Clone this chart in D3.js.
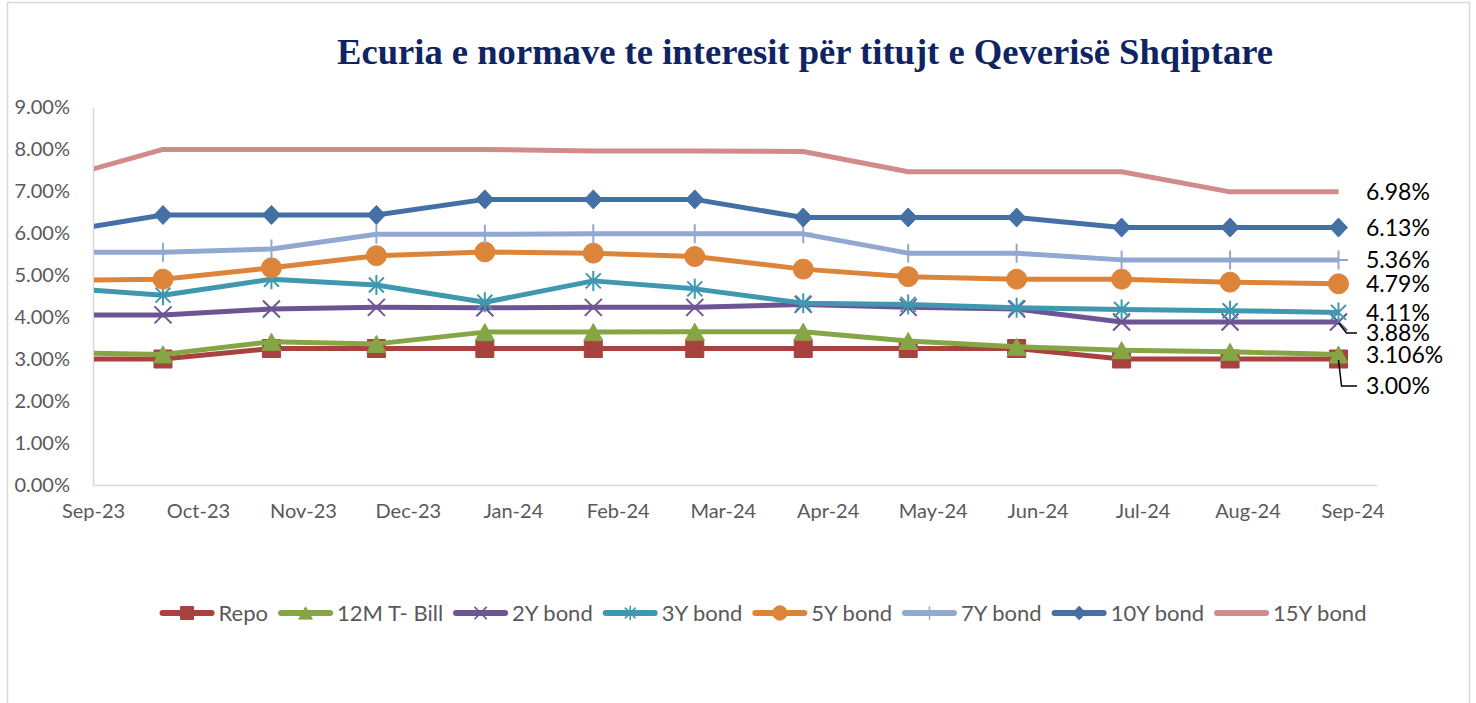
<!DOCTYPE html>
<html>
<head>
<meta charset="utf-8">
<script src="https://cdn.jsdelivr.net/npm/d3@7"></script>
<style>
  body { margin: 0; background: #fff; }
  svg { display: block; font-family: Lato, "Open Sans", sans-serif; }
</style>
</head>
<body>
<div id="chart"></div>
<script>
// monthly observations (first one falls before the axis start and is clipped)
const dates = ["2023-09-01", "2023-10-01", "2023-11-01", "2023-12-01", "2024-01-01", "2024-02-01",
  "2024-03-01", "2024-04-01", "2024-05-01", "2024-06-01", "2024-07-01", "2024-08-01", "2024-09-01"]
const tickLabels = ["Sep-23", "Oct-23", "Nov-23", "Dec-23", "Jan-24", "Feb-24", "Mar-24",
  "Apr-24", "May-24", "Jun-24", "Jul-24", "Aug-24", "Sep-24"]
const yTicks = [0, 1, 2, 3, 4, 5, 6, 7, 8, 9]

const repo     = [3.00, 3.00, 3.25, 3.25, 3.25, 3.25, 3.25, 3.25, 3.25, 3.25, 3.00, 3.00, 3.00]
const tbill12m = [3.15, 3.11, 3.41, 3.36, 3.64, 3.64, 3.65, 3.65, 3.43, 3.29, 3.21, 3.17, 3.106]
const bond2y   = [4.05, 4.05, 4.19, 4.23, 4.22, 4.23, 4.23, 4.30, 4.23, 4.19, 3.88, 3.88, 3.88]
const bond3y   = [4.70, 4.52, 4.90, 4.76, 4.35, 4.86, 4.67, 4.33, 4.30, 4.22, 4.18, 4.15, 4.11]
const bond5y   = [4.87, 4.90, 5.17, 5.46, 5.55, 5.52, 5.44, 5.14, 4.96, 4.90, 4.90, 4.83, 4.79]
const bond7y   = [5.54, 5.54, 5.62, 5.97, 5.97, 5.98, 5.98, 5.98, 5.52, 5.52, 5.36, 5.36, 5.36]
const bond10y  = [6.02, 6.43, 6.43, 6.43, 6.80, 6.80, 6.80, 6.37, 6.37, 6.37, 6.13, 6.13, 6.13]
const bond15y  = [7.29, 7.99, 7.99, 7.99, 7.99, 7.95, 7.95, 7.94, 7.46, 7.46, 7.46, 6.98, 6.98]

const seriesNames = ["Repo", "12M T- Bill", "2Y bond", "3Y bond", "5Y bond", "7Y bond", "10Y bond", "15Y bond"]
const seriesValues = [repo, tbill12m, bond2y, bond3y, bond5y, bond7y, bond10y, bond15y]
const endLabels = ["3.00%", "3.106%", "3.88%", "4.11%", "4.79%", "5.36%", "6.13%", "6.98%"]

const colors = ["#a8423f", "#86a544", "#6e5494", "#3f98b0", "#dd843b", "#91a8d0", "#4470a6", "#d18b8b"]
const markerTypes = ["square", "triangle", "x", "star", "circle", "plus", "diamond", null]

const width = 1476, height = 703
const parse = d3.timeParse("%Y-%m-%d")

const svg = d3.select("#chart").append("svg")
    .attr("width", width)
    .attr("height", height)

svg.append("rect")
    .attr("x", 7.5).attr("y", 2.5)
    .attr("width", 1462).attr("height", 740)
    .attr("fill", "none").attr("stroke", "#d9d9d9").attr("stroke-width", 1.5)

// title
const title = svg.append("text")
    .attr("x", 805).attr("y", 64)
    .attr("text-anchor", "middle")
    .attr("font-family", "'Liberation Serif', 'DejaVu Serif', serif")
    .attr("font-weight", "bold")
    .attr("font-size", 35)
    .attr("fill", "#0f2462")
    .text("Ecuria e normave te interesit për titujt e Qeverisë Shqiptare")
title.attr("textLength", 936).attr("lengthAdjust", "spacingAndGlyphs")

// scales - axis runs on a day basis, labels every 30 days from its start
const axisStart = new Date(2023, 8, 11)
const x = d3.scaleTime()
    .domain([axisStart, new Date(2024, 8, 12)])
    .range([93, 1377])
const y = d3.scaleLinear()
    .domain([0, 9])
    .range([485, 107])

const tickDates = tickLabels.map((d, i) => d3.timeDay.offset(axisStart, 30 * i))

const xAxis = svg.append("g")
    .attr("transform", "translate(0,485)")
    .call(d3.axisBottom(x).tickValues(tickDates).tickFormat((d, i) => tickLabels[i])
        .tickSize(0).tickPadding(19))
xAxis.select(".domain").attr("stroke", "#d9d9d9").attr("stroke-width", 1.5)
xAxis.selectAll("text").attr("font-size", 20).attr("fill", "#595959").attr("font-family", "Lato")

const yAxis = svg.append("g")
    .attr("transform", "translate(93,0)")
    .call(d3.axisLeft(y).tickValues(yTicks).tickFormat(d => d.toFixed(2) + "%")
        .tickSize(0).tickPadding(23))
yAxis.select(".domain").attr("stroke", "#d9d9d9").attr("stroke-width", 1.5)
yAxis.selectAll("text").attr("font-size", 20).attr("fill", "#595959").attr("font-family", "Lato")

svg.append("clipPath").attr("id", "plot-clip")
  .append("rect")
    .attr("x", 94).attr("y", 0)
    .attr("width", 1300).attr("height", 520)

function markerPath(type, big) {
  const k = big ? 1 : 0.72
  if (type == "square") { const s = 18 * k; return `M${-s/2},${-s/2}h${s}v${s}h${-s}Z` }
  if (type == "triangle") { const w = 19 * k, h = 17 * k; return `M0,${-h/2}L${w/2},${h/2}L${-w/2},${h/2}Z` }
  if (type == "diamond") { const w = 18 * k, h = 19 * k; return `M0,${-h/2}L${w/2},0L0,${h/2}L${-w/2},0Z` }
  if (type == "circle") { const r = 10 * k; return `M${-r},0A${r},${r} 0 1,0 ${r},0A${r},${r} 0 1,0 ${-r},0Z` }
  if (type == "x") { const s = 8.5 * k; return `M${-s},${-s}L${s},${s}M${-s},${s}L${s},${-s}` }
  if (type == "star") { const s = 7.5 * k, v = 10 * k; return `M${-s},${-s}L${s},${s}M${-s},${s}L${s},${-s}M0,${-v}L0,${v}` }
  if (type == "plus") { const s = 9.5 * k; return `M0,${-s}L0,${s}M${-s},0L${s},0` }
  return null
}
const filled = t => ["square", "triangle", "diamond", "circle"].includes(t)

const line = d3.line()
    .x((d, i) => x(parse(dates[i])))
    .y(d => y(d))

const plot = svg.append("g").attr("clip-path", "url(#plot-clip)")

seriesValues.forEach((vals, s) => {
  const g = plot.append("g")
  g.append("path")
      .datum(vals)
      .attr("d", line)
      .attr("fill", "none")
      .attr("stroke", colors[s])
      .attr("stroke-width", 5)
      .attr("stroke-linejoin", "round")
  const mt = markerTypes[s]
  if (mt) {
    g.selectAll("path.mk")
      .data(vals)
      .join("path")
        .attr("class", "mk")
        .attr("transform", (d, i) => `translate(${x(parse(dates[i]))},${y(d)})`)
        .attr("d", markerPath(mt, true))
        .attr("fill", filled(mt) ? colors[s] : "none")
        .attr("stroke", colors[s])
        .attr("stroke-width", filled(mt) ? 1 : 2)
  }
})

// end-of-series labels, two of them moved down with leader lines
const nudge = { "3.88%": 11, "3.00%": 27 }
const lastX = x(parse(dates[dates.length - 1]))
seriesValues.forEach((vals, s) => {
  const v = vals[vals.length - 1]
  const ly = y(v) + (nudge[endLabels[s]] || 0)
  svg.append("text")
      .attr("x", 1366).attr("y", ly)
      .attr("dy", "0.36em")
      .attr("font-size", 23)
      .attr("fill", "#000")
      .text(endLabels[s])
  if (nudge[endLabels[s]]) {
    const bend = endLabels[s] == "3.00%" ? 3 : 8
    svg.append("path")
        .attr("d", `M${lastX},${y(v) + 1}L${lastX + bend},${ly}L1357,${ly}`)
        .attr("fill", "none")
        .attr("stroke", "#000")
        .attr("stroke-width", 1.5)
  }
})

// legend
const legend = svg.append("g").attr("transform", "translate(0,613)")
let lx = 0
seriesNames.forEach((name, s) => {
  const it = legend.append("g")
  it.append("line")
      .attr("x1", lx + 3).attr("x2", lx + 52)
      .attr("stroke", colors[s]).attr("stroke-width", 6).attr("stroke-linecap", "round")
  const mt = markerTypes[s]
  if (mt) {
    it.append("path")
        .attr("transform", `translate(${lx + 27.5},0)`)
        .attr("d", markerPath(mt, false))
        .attr("fill", filled(mt) ? colors[s] : "none")
        .attr("stroke", colors[s])
        .attr("stroke-width", filled(mt) ? 1 : 1.5)
  }
  const t = it.append("text")
      .attr("x", lx + 59).attr("dy", "0.36em")
      .attr("font-size", 22).attr("fill", "#595959")
      .text(name)
  lx += 59 + t.node().getComputedTextLength() + 10
})
const legendWidth = lx - 10
legend.attr("transform", `translate(${763 - legendWidth / 2},613)`)
</script>
</body>
</html>
